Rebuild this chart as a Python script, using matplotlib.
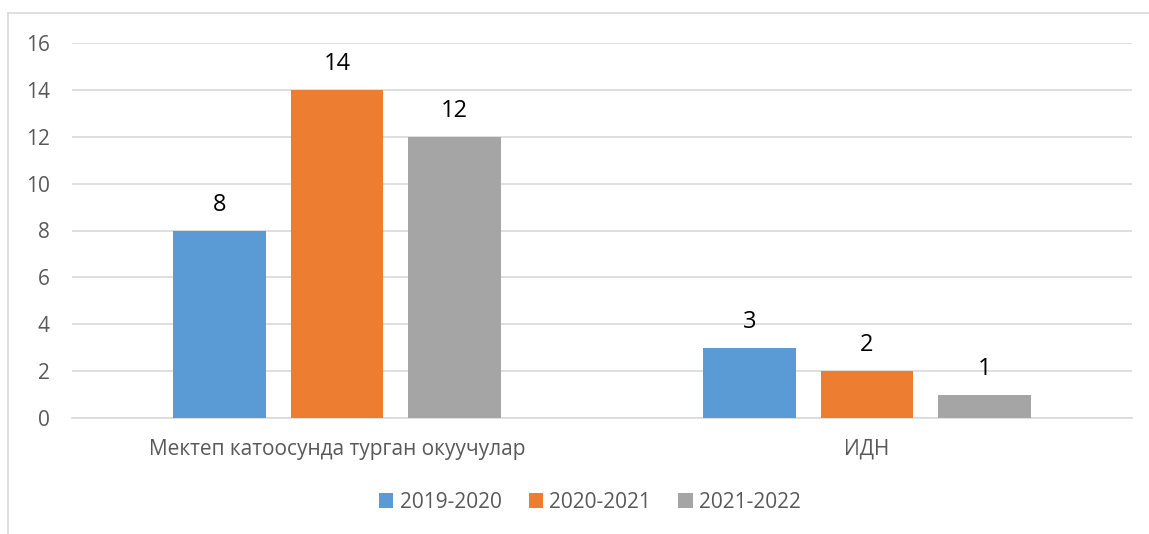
import matplotlib
matplotlib.use("Agg")
import matplotlib.pyplot as plt
from matplotlib.lines import Line2D
import numpy as np

plt.rcParams['font.family'] = ['Open Sans', 'DejaVu Sans']

# data
categories = ['Мектеп катоосунда турган окуучулар', 'ИДН']
series_names = ['2019-2020', '2020-2021', '2021-2022']
v2019 = [8, 3]
v2020 = [14, 2]
v2021 = [12, 1]
colors = ['#5B9BD5', '#ED7D31', '#A5A5A5']

W, H = 1149, 534
fig = plt.figure(figsize=(W / 100, H / 100), dpi=100)
ax = fig.add_axes([72 / W, (H - 418) / H, (1132 - 72) / W, (418 - 43) / H])

x = np.arange(len(categories))
width = 0.1745   # bar width
step = 0.2217    # distance between bar centers

for i, (vals, name, col) in enumerate(zip([v2019, v2020, v2021], series_names, colors)):
    bars = ax.bar(x + (i - 1) * step, vals, width, color=col, label=name, zorder=3)
    for rect in bars:
        h = rect.get_height()
        ax.annotate('{}'.format(h),
                    xy=(rect.get_x() + rect.get_width() / 2, h),
                    xytext=(0, 10), textcoords='offset points',
                    ha='center', va='bottom', fontsize=17, color='black')

ax.set_xlim(-0.5, 1.5)
ax.set_ylim(0, 16)
ax.set_yticks(range(0, 17, 2))
ax.set_xticks(x)
ax.set_xticklabels(categories)
ax.grid(axis='y', color='#D9D9D9', linewidth=1.2, zorder=0)
for s in ['top', 'right', 'left']:
    ax.spines[s].set_visible(False)
ax.spines['bottom'].set_color('#D9D9D9')
ax.spines['bottom'].set_linewidth(1.2)
ax.tick_params(axis='both', length=0, labelsize=15, labelcolor='#595959')
ax.tick_params(axis='x', pad=15)
ax.tick_params(axis='y', pad=16)

leg = fig.legend(loc='center', bbox_to_anchor=(590 / W, (H - 502) / H), ncol=3,
                 frameon=False, fontsize=15, handlelength=0.7, handleheight=0.7,
                 handletextpad=0.3, columnspacing=1.3)
for t in leg.get_texts():
    t.set_color('#595959')

# outer chart frame (partly cut off in the reference)
fig.add_artist(Line2D([8 / W, 1.0], [(H - 13) / H, (H - 13) / H], color='#D9D9D9', lw=1.2))
fig.add_artist(Line2D([8 / W, 8 / W], [0, (H - 13) / H], color='#D9D9D9', lw=1.2))

fig.savefig('out.png', dpi=100)
